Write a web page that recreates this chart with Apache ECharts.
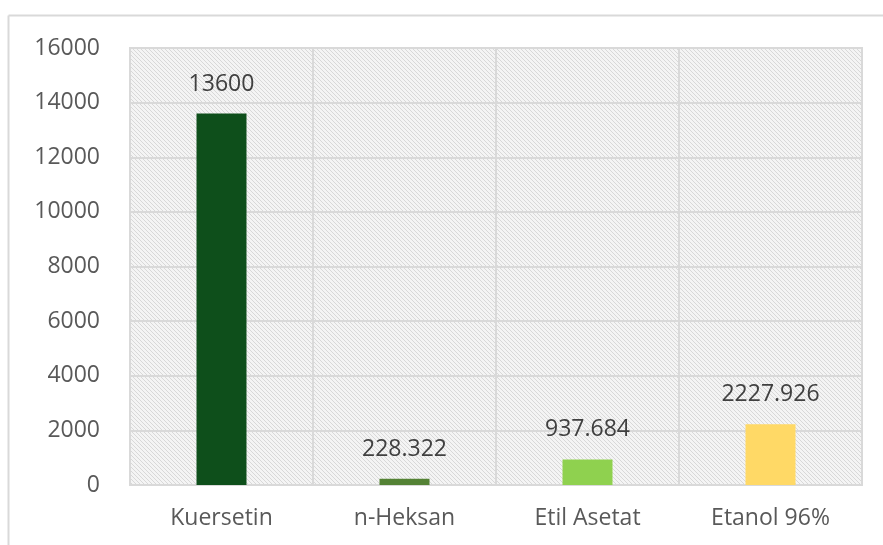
<!DOCTYPE html>
<html>
<head>
<meta charset="utf-8">
<script src="https://cdn.jsdelivr.net/npm/echarts@6/dist/echarts.min.js"></script>
<style>
  html, body { margin: 0; padding: 0; background: #ffffff; }
  #chart { width: 883px; height: 545px; }
</style>
</head>
<body>
<div id="chart"></div>
<script>
// Sample names and their measured values
const categories = ['Kuersetin', 'n-Heksan', 'Etil Asetat', 'Etanol 96%'];
const values = [13600, 228.322, 937.684, 2227.926];
const valueLabels = ['13600', '228.322', '937.684', '2227.926'];
const barColors = ['#0e4f1b', '#548235', '#8fd14f', '#ffd966'];
const yTicks = [0, 2000, 4000, 6000, 8000, 10000, 12000, 14000, 16000];

// Fine diagonal hatch used to fill the plotting area
function hatchPattern() {
  const c = document.createElement('canvas');
  c.width = 4; c.height = 4;
  const ctx = c.getContext('2d');
  ctx.fillStyle = '#f4f4f4';
  ctx.fillRect(0, 0, 4, 4);
  ctx.fillStyle = '#d8d8d8';
  for (let i = 0; i < 4; i++) ctx.fillRect(i, i, 1, 1);
  return c;
}

const chart = echarts.init(document.getElementById('chart'), null, { renderer: 'canvas' });
const font = '"Open Sans", "Noto Sans", sans-serif';

chart.setOption({
  animation: false,
  backgroundColor: '#ffffff',
  graphic: [
    { type: 'line', shape: { x1: 8.5, y1: 15.5, x2: 883, y2: 15.5 }, style: { stroke: '#d9d9d9', lineWidth: 2 } },
    { type: 'line', shape: { x1: 8.5, y1: 15.5, x2: 8.5, y2: 545 }, style: { stroke: '#d9d9d9', lineWidth: 2 } }
  ],
  grid: {
    left: 130, right: 21, top: 48, bottom: 60,
    show: true,
    backgroundColor: { image: hatchPattern(), repeat: 'repeat' },
    borderColor: '#d9d9d9',
    borderWidth: 2
  },
  xAxis: {
    type: 'category',
    data: categories,
    axisLine: { show: true, lineStyle: { color: '#d9d9d9', width: 2 } },
    axisTick: { show: false },
    splitLine: { show: true, lineStyle: { color: '#d9d9d9', width: 2 } },
    axisLabel: { color: '#595959', fontFamily: font, fontSize: 23, margin: 22 }
  },
  yAxis: {
    type: 'value',
    min: yTicks[0],
    max: yTicks[yTicks.length - 1],
    interval: yTicks[1] - yTicks[0],
    axisLine: { show: false },
    axisTick: { show: false },
    splitLine: { show: true, lineStyle: { color: '#d9d9d9', width: 2 } },
    axisLabel: {
      color: '#595959', fontFamily: font, fontSize: 23, margin: 30,
      formatter: v => String(v)
    }
  },
  series: [{
    type: 'bar',
    data: values.map((v, i) => ({ value: v, itemStyle: { color: barColors[i] } })),
    barWidth: 50,
    label: {
      show: true,
      position: 'top',
      distance: 18,
      color: '#404040',
      fontFamily: font,
      fontSize: 23,
      formatter: p => valueLabels[p.dataIndex]
    }
  }]
});
</script>
</body>
</html>
